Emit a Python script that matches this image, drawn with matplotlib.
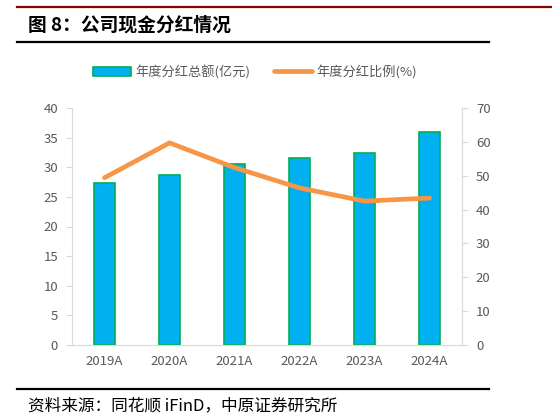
import matplotlib.pyplot as plt
from matplotlib.lines import Line2D

plt.rcParams['font.family'] = ['Noto Sans CJK SC', 'DejaVu Sans']

years = ['2019A', '2020A', '2021A', '2022A', '2023A', '2024A']
dividend_total = [27.3, 28.7, 30.5, 31.5, 32.4, 36.0]   # 亿元
payout_ratio = [49.4, 59.7, 52.4, 46.4, 42.5, 43.4]     # %

bar_color = '#00B0F0'
bar_edge = '#00B050'
line_color = '#F79646'
tick_color = '#595959'
spine_color = '#D9D9D9'

fig = plt.figure(figsize=(5.52, 4.2), dpi=100)

# header / footer decorations
fig.add_artist(Line2D([17 / 552, 552 / 552], [1 - 7 / 420] * 2, color='#8B0000', lw=1.6))
fig.add_artist(Line2D([17 / 552, 489 / 552], [1 - 42 / 420] * 2, color='black', lw=1.6))
fig.add_artist(Line2D([17 / 552, 489 / 552], [1 - 389 / 420] * 2, color='black', lw=1.6))
fig.text(28 / 552, 1 - 25 / 420, '图 8：公司现金分红情况', fontsize=13.5, fontweight='bold',
         va='center', ha='left')
fig.text(28 / 552, 1 - 406 / 420, '资料来源：同花顺 iFinD，中原证券研究所', fontsize=12,
         va='center', ha='left')

ax = fig.add_axes([72 / 552, 1 - 345 / 420, 390 / 552, 237 / 420])
x = list(range(len(years)))
ax.bar(x, dividend_total, width=0.31, color=bar_color, edgecolor=bar_edge, linewidth=1.2,
       label='年度分红总额(亿元)', zorder=2)
ax.set_xlim(-0.5, len(years) - 0.5)
ax.set_ylim(0, 40)
ax.set_yticks(range(0, 41, 5))
ax.set_xticks(x)
ax.set_xticklabels(years)

ax2 = ax.twinx()
ax2.plot(x, payout_ratio, color=line_color, lw=3.4, solid_capstyle='round',
         label='年度分红比例(%)', zorder=3)
ax2.set_ylim(0, 70)
ax2.set_yticks(range(0, 71, 10))

for a in (ax, ax2):
    for s in a.spines.values():
        s.set_visible(False)
    a.tick_params(colors=tick_color, labelsize=9.5, length=4, width=0.8)
    a.tick_params(axis='y', color=spine_color)
ax.spines['left'].set_visible(True)
ax.spines['left'].set_color(spine_color)
ax.spines['bottom'].set_visible(True)
ax.spines['bottom'].set_color(spine_color)
ax2.spines['right'].set_visible(True)
ax2.spines['right'].set_color(spine_color)
ax.tick_params(axis='x', length=0, pad=7)
ax.tick_params(axis='y', pad=6)
ax2.tick_params(axis='y', pad=6)

h1, l1 = ax.get_legend_handles_labels()
h2, l2 = ax2.get_legend_handles_labels()
fig.legend(h1 + h2, l1 + l2, loc='center', bbox_to_anchor=(0.462, 1 - 72 / 420), ncol=2,
           frameon=False, fontsize=9.5, labelcolor=tick_color, handlelength=2.9,
           handletextpad=0.3, columnspacing=1.8)

fig.savefig('out.png', dpi=100)
